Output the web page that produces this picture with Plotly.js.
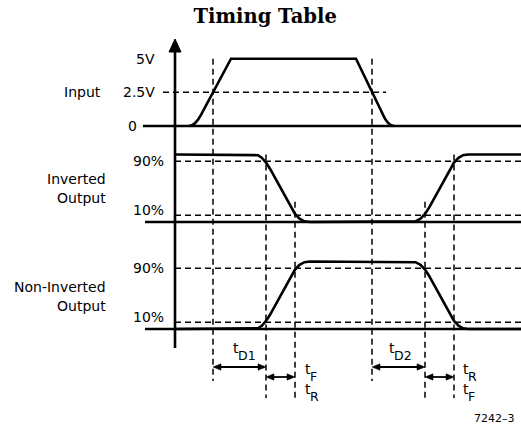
<!DOCTYPE html>
<html>
<head>
<meta charset="utf-8">
<script src="https://cdn.plot.ly/plotly-3.0.1.min.js"></script>
<style>
html,body{margin:0;padding:0;background:#fff;}
#chart{width:521px;height:427px;}
</style>
</head>
<body>
<div id="chart"></div>
<script>
// ---------------- DATA (time in arbitrary units, levels per signal) ----------------
const inputTime  = [14, 17, 20, 23, 26, 56, 181, 207, 210, 213, 216, 219];
const inputVolts = [0, 0.05, 0.21, 0.47, 0.83, 5, 5, 0.94, 0.53, 0.24, 0.06, 0];

const outTime = [0, 79, 83, 87, 91, 95, 116, 120, 124.5, 129.5, 135, 235, 240.5, 245.5, 250, 254, 275, 279, 283.5, 288, 293, 346];
const invertedLevel    = [1, 1, 0.99, 0.95, 0.88, 0.79, 0.21, 0.12, 0.05, 0.01, 0, 0, 0.01, 0.05, 0.12, 0.21, 0.79, 0.88, 0.95, 0.99, 1, 1];
const nonInvertedLevel = [0, 0, 0.01, 0.05, 0.12, 0.21, 0.79, 0.88, 0.95, 0.99, 1, 1, 0.99, 0.95, 0.88, 0.79, 0.21, 0.12, 0.05, 0.01, 0, 0];

const inputTickVolts  = [5, 2.5, 0];
const inputTickLabels = ['5V', '2.5V', '0'];
const pctLevels = [0.9, 0.1];
const pctLabels = ['90%', '10%'];

const inputHalfTimes = [38, 197];            // input crosses 2.5V
const out90Times     = [91, 279];            // inverted output at 90%
const out10Times     = [120, 250];           // inverted output at 10%
const intervalStart  = [38, 91, 197, 250];
const intervalEnd    = [91, 120, 250, 279];
const intervalSubs   = ['D1', 'F', 'D2', 'R'];
const secondSubs     = ['R', 'F'];
const figureId = '7242–3';

// ---------------- LAYOUT MAPPING ----------------
const X0 = -175, X1 = 346;
const inBase = 126, inPerVolt = 13.46;
const invBase = 222, nonBase = 329, swing = 67.5;
const yIn  = v => inBase - v * inPerVolt;
const yInv = l => invBase - l * swing;
const yNon = l => nonBase - l * swing;

const black = '#000';
const solid = {color: black, width: 2.6};
const dashed = {color: black, width: 1.5, dash: '6px,4px'};

const traces = [
  {x: inputTime, y: inputVolts.map(yIn), mode: 'lines', line: solid, hoverinfo: 'skip'},
  {x: outTime, y: invertedLevel.map(yInv), mode: 'lines', line: solid, hoverinfo: 'skip'},
  {x: outTime, y: nonInvertedLevel.map(yNon), mode: 'lines', line: solid, hoverinfo: 'skip'}
];

const shapes = [];
const L = (x0, y0, x1, y1, line) => shapes.push({type: 'line', xref: 'x', yref: 'y', x0: x0, x1: x1, y0: y0, y1: y1, line: line});
// baselines
[[inBase, -32], [invBase, -30], [nonBase, -30]].forEach(([y, x0]) => L(x0, y, X1, y, {color: black, width: 2.6}));
// vertical axis with arrow
L(0, 348, 0, 50, {color: black, width: 2.6});
shapes.push({type: 'path', xref: 'x', yref: 'y', path: 'M 0 39 L -6 52 L 6 52 Z', fillcolor: black, line: {color: black, width: 1}});
// 2.5V reference
L(-12, yIn(2.5), 211, yIn(2.5), dashed);
// 90 / 10 % references
pctLevels.forEach(l => { L(0, yInv(l), X1, yInv(l), dashed); L(0, yNon(l), X1, yNon(l), dashed); });
// vertical timing markers
inputHalfTimes.forEach(t => L(t, yIn(5), t, 381, dashed));
out90Times.forEach(t => L(t, yInv(1), t, 398, dashed));
out10Times.forEach(t => L(t, yInv(0.3), t, 398, dashed));
// interval double arrows
const head = 8, half = 3.2;
intervalStart.forEach((s, i) => {
  const e = intervalEnd[i];
  const y = (i % 2 === 0) ? 367 : 377;
  L(s + 2, y, e - 2, y, {color: black, width: 1.8});
  shapes.push({type: 'path', xref: 'x', yref: 'y', fillcolor: black, line: {color: black, width: 0.5},
    path: `M ${s} ${y} L ${s + head} ${y - half} L ${s + head} ${y + half} Z`});
  shapes.push({type: 'path', xref: 'x', yref: 'y', fillcolor: black, line: {color: black, width: 0.5},
    path: `M ${e} ${y} L ${e - head} ${y - half} L ${e - head} ${y + half} Z`});
});

const font = {family: 'DejaVu Sans', size: 14, color: black};
const subFont = {family: 'DejaVu Sans', size: 12.5, color: black};
const annotations = [];
const txt = (text, x, y, xanchor, extra) => Object.assign({text: text, x: x, y: y, xref: 'x', yref: 'y', showarrow: false, xanchor: xanchor, yanchor: 'middle', font: font}, extra || {});
// "t" with a subscript, drawn as two texts
const tLabel = (sub, x, y) => {
  annotations.push(txt('t', x, y - 4, 'left', {font: font}));
  annotations.push(txt(sub, x + 5, y + 3, 'left', {font: subFont}));
};

inputTickVolts.forEach((v, i) => {
  if (v === 0) annotations.push(txt(inputTickLabels[i], -43, yIn(v), 'center'));
  else annotations.push(txt(inputTickLabels[i], -18, yIn(v), 'right'));
});
annotations.push(txt('Input', -72, yIn(2.5), 'right'));
pctLevels.forEach((l, i) => {
  annotations.push(txt(pctLabels[i], -9, yInv(l) + (l < 0.5 ? -5 : 0), 'right'));
  annotations.push(txt(pctLabels[i], -9, yNon(l) + (l < 0.5 ? -5 : 0), 'right'));
});
annotations.push(txt('Inverted', -67, 179, 'right'));
annotations.push(txt('Output', -67, 198, 'right'));
annotations.push(txt('Non-Inverted', -67, 287, 'right'));
annotations.push(txt('Output', -67, 306, 'right'));

tLabel(intervalSubs[0], 56, 352);
tLabel(intervalSubs[2], 212, 352);
tLabel(intervalSubs[1], 128, 373);
tLabel(secondSubs[0], 128, 393);
tLabel(intervalSubs[3], 286, 373);
tLabel(secondSubs[1], 286, 393);
annotations.push(txt(figureId, 342, 418, 'right', {font: {family: 'DejaVu Sans', size: 11, color: black}}));

const layout = {
  width: 521, height: 427,
  margin: {l: 0, r: 0, t: 0, b: 0},
  paper_bgcolor: '#fff', plot_bgcolor: '#fff',
  showlegend: false,
  title: {text: '<b>Timing Table</b>', x: 0.509, xanchor: 'center', y: 0.962, yanchor: 'middle', yref: 'container',
          font: {family: 'DejaVu Serif', size: 19.5, color: black}},
  xaxis: {range: [X0, X1], visible: false, fixedrange: true},
  yaxis: {range: [427, 0], visible: false, fixedrange: true},
  shapes: shapes,
  annotations: annotations
};

Plotly.newPlot('chart', traces, layout, {staticPlot: true, displayModeBar: false});
</script>
</body>
</html>
